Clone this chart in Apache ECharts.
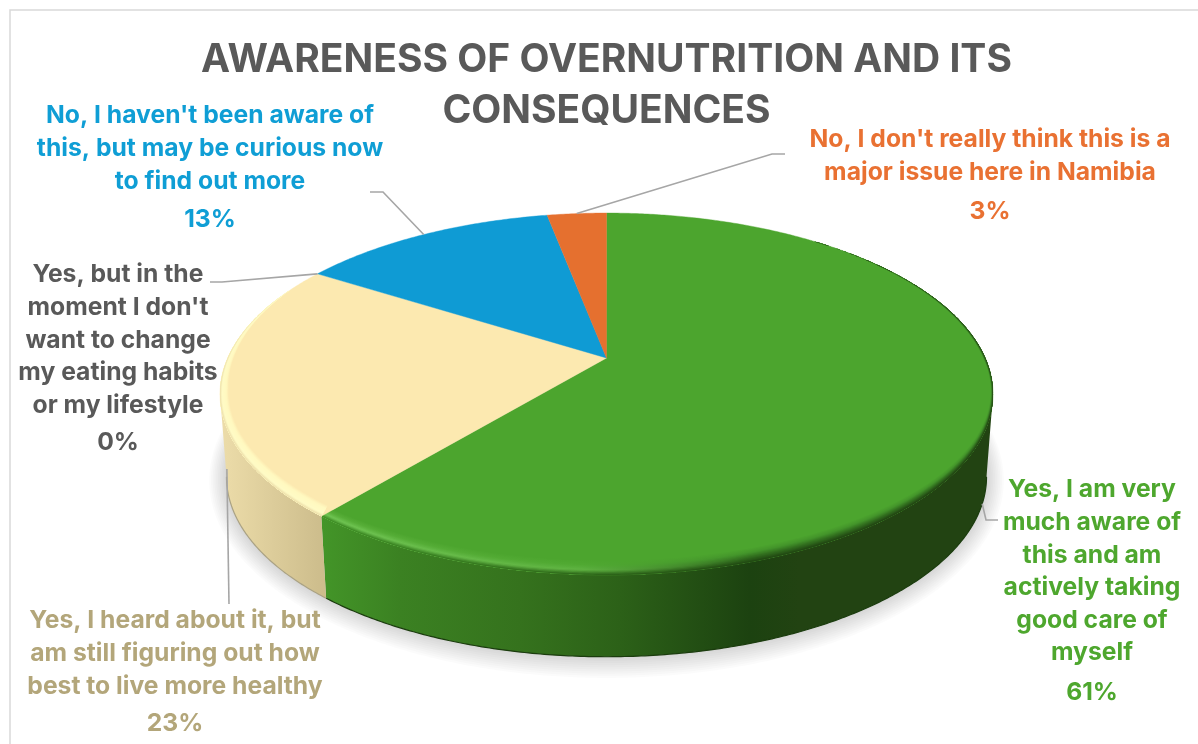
<!DOCTYPE html>
<html><head><meta charset="utf-8">
<style>html,body{margin:0;padding:0;background:#fff}#c{width:1198px;height:744px}</style>
<script src="https://cdn.jsdelivr.net/npm/echarts@6/dist/echarts.min.js"></script>
</head><body><div id="c"></div>
<script>
const titleText = 'AWARENESS OF OVERNUTRITION AND ITS\nCONSEQUENCES';
const categories = [
  'Yes, I am very\nmuch aware of\nthis and am\nactively taking\ngood care of\nmyself',
  'Yes, I heard about it, but\nam still figuring out how\nbest to live more healthy',
  "Yes, but in the\nmoment I don't\nwant to change\nmy eating habits\nor my lifestyle",
  "No, I haven't been aware of\nthis, but may be curious now\nto find out more",
  "No, I don't really think this is a\nmajor issue here in Namibia"
];
const values = [61, 23, 0, 13, 3];
const faceColors = ['#4ca52e', '#fce9b0', '#595959', '#0f9bd4', '#e5702f'];
const textColors = ['#4ea72e', '#b3a67a', '#595959', '#0f9ed5', '#e97132'];
const FONT = 'Inter';
const FS = 24.7, LH = 32.6;
// label layout: centre x, first line centre y, percent line centre y, leader elbow points, leader anchored on bottom rim?
const labelLayout = [
  {x:1092,y:490,py:693,elbow:[[986,520],[998,520]],low:true},
  {x:175,y:621,py:724,elbow:[[229,604]],low:true},
  {x:118,y:275,py:443,elbow:[[222,282],[210,282]],low:false},
  {x:210,y:116,py:220,elbow:[[383,192],[370,192]],low:false},
  {x:990,y:140,py:212,elbow:[[772,154],[785,154]],low:false}
];
// projection of the pie disc
const P = {cx:606.5,y0:358,a:378.8,b:173.8,k:0.199,a2:372.4,b2:172.8,y2:441};
const rad = d => d*Math.PI/180;
function topPt(deg,s,dy){
  s = s===undefined?1:s; dy = dy||0;
  const u=Math.sin(rad(deg)),v=Math.cos(rad(deg)),d=1+P.k*v;
  return [P.cx+s*P.a*u/d, P.y0-s*P.b*v/d+dy];
}
function botPt(deg,grow){
  grow = grow||0;
  const u=Math.sin(rad(deg)),v=Math.cos(rad(deg)),d=1+P.k*v;
  return [P.cx+(P.a2+grow)*u/d, P.y2-(P.b2+grow)*v/d];
}
const total = values.reduce((a,b)=>a+b,0);
const starts=[]; { let c=0; values.forEach(v=>{starts.push(c/total*360); c+=v;}); }
const ends = values.map((v,i)=>starts[i]+v/total*360);
const wallLimit = Math.acos(-P.k)*180/Math.PI; // silhouette angle right side
function arc(fn,a,b){ const n=Math.max(2,Math.ceil(Math.abs(b-a)*2)); const out=[]; for(let i=0;i<=n;i++) out.push(fn(a+(b-a)*i/n)); return out; }
function hex(c){return [1,3,5].map(i=>parseInt(c.substr(i,2),16));}
function mix(c1,c2,t){const a=hex(c1),b=hex(c2);return 'rgb('+a.map((x,i)=>Math.round(x+(b[i]-x)*t)).join(',')+')';}
function profile(stops,f){
  for(let i=1;i<stops.length;i++){ if(f<=stops[i][0]){const t=(f-stops[i-1][0])/(stops[i][0]-stops[i-1][0]);return mix(stops[i-1][1],stops[i][1],t);} }
  return stops[stops.length-1][1];
}
const grad = (x0,x1,stops)=>new echarts.graphic.LinearGradient(x0,0,x1,0,stops.map(s=>({offset:(s[0]-x0)/(x1-x0),color:s[1]})),true);
const wallStyles = {
  0:{stops:[[322,'#439528'],[400,'#3b8122'],[520,'#35721d'],[620,'#2c6118'],[750,'#1c4210'],[800,'#224312'],[993,'#224312']],edge:'#1b3c0e',from:wallLimit,to:null},
  1:{stops:[[222,'#ecdca9'],[322,'#cdbd8c']],edge:'#aaa284',from:null,to:270-(wallLimit-90)}
};
const bevels = {
  0:{radial:d=>0.006*Math.min(1,Math.max(0,(d-35)/45)),depth:13,cols:[
    [322,[[0,'#3f8f25'],[.3,'#70c553'],[.65,'#58af39'],[1,'#4ca52e']]],
    [580,[[0,'#2f6a1a'],[.3,'#5fb342'],[.65,'#50a932'],[1,'#4ca52e']]],
    [750,[[0,'#214a12'],[.3,'#2f6a1d'],[.65,'#43942a'],[1,'#4ca52e']]],
    [993,[[0,'#224312'],[.3,'#2f6a1d'],[.65,'#43942a'],[1,'#4ca52e']]]]},
  1:{radial:d=>0.022*Math.min(1,Math.max(0,(295-d)/35)),depth:9,cols:[
    [222,[[0,'#efe2ad'],[.2,'#fffbc6'],[.7,'#fff9c0'],[1,'#fce9b0']]],
    [330,[[0,'#efe2ad'],[.2,'#fffbc6'],[.7,'#fff9c0'],[1,'#fce9b0']]]]}
};
function sliceChildren(i){
  const out=[], a=starts[i], b=ends[i];
  if(values[i]<=0) return out;
  const ws=wallStyles[i];
  if(ws){
    const from=ws.from!==null?Math.max(a,ws.from):a, to=ws.to!==null?Math.min(b,ws.to):b;
    const t=arc(d=>topPt(d),from,to), l=arc(d=>botPt(d),from,to);
    out.push({type:'polygon',shape:{points:t.concat(l.slice().reverse())},
      style:{fill:grad(ws.stops[0][0],ws.stops[ws.stops.length-1][0],ws.stops),stroke:null}});
    out.push({type:'polyline',shape:{points:l},style:{stroke:ws.edge,lineWidth:1.2,fill:null}});
  }
  out.push({type:'polygon',shape:{points:[[P.cx,P.y0]].concat(arc(d=>topPt(d),a,b))},
    style:{fill:faceColors[i],stroke:faceColors[i],lineWidth:0.4}});
  const bv=bevels[i];
  if(bv){
    const N=12;
    for(let k=N;k>=1;k--){
      const f=k/N;
      const inner=arc(d=>{const c=Math.cos(rad(d));return topPt(d,1-bv.radial(d)*f,-bv.depth*f*Math.max(0,-c));},a,b);
      const outer=arc(d=>topPt(d),a,b);
      const x0=bv.cols[0][0], x1=bv.cols[bv.cols.length-1][0];
      const col=grad(x0,x1,bv.cols.map(c=>[c[0],profile(c[1],(k-1)/N)]));
      out.push({type:'polygon',shape:{points:outer.concat(inner.reverse())},style:{fill:col,stroke:null}});
    }
  }
  return out;
}
const shadowLayers = Array.from({length:10},(_,j)=>j+1);
const chart = echarts.init(document.getElementById('c'),null,{renderer:'canvas'});
chart.setOption({
  animation:false,
  backgroundColor:'#ffffff',
  title:{text:titleText,left:606.5,top:35,padding:0,textAlign:'center',
    textStyle:{fontFamily:FONT,fontSize:39,fontWeight:700,color:'#595959',lineHeight:51}},
  graphic:[{type:'rect',z:-10,shape:{x:10,y:10,width:1400,height:1000},style:{fill:'#fff',stroke:'#d9d9d9',lineWidth:1.5}}],
  series:[
    {type:'custom',coordinateSystem:'none',silent:true,z:1,data:[1],
     renderItem:()=>({type:'group',children:shadowLayers.map(j=>({type:'polygon',
       shape:{points:arc(d=>botPt(d,j*1.7),0,360)},style:{fill:'rgba(0,0,0,0.017)',stroke:null}}))})},
    {type:'custom',coordinateSystem:'none',silent:true,z:2,data:values.map((v,i)=>[i,v]),
     renderItem:(p,api)=>({type:'group',children:sliceChildren(api.value(0))})},
    {type:'custom',coordinateSystem:'none',silent:true,z:3,data:values.map((v,i)=>[i,v]),
     renderItem:(p,api)=>{
       const i=api.value(0), v=api.value(1), L=labelLayout[i];
       const mid=starts[i]+(values[i]/total*180);
       const anchor=L.low?botPt(mid):topPt(mid);
       return {type:'group',children:[
         {type:'polyline',shape:{points:[anchor].concat(L.elbow)},style:{stroke:'#a6a6a6',lineWidth:1.6,fill:null}},
         {type:'text',style:{text:categories[i],x:L.x,y:L.y-LH/2,align:'center',verticalAlign:'top',
            fontFamily:FONT,fontSize:FS,fontWeight:700,lineHeight:LH,fill:textColors[i]}},
         {type:'text',style:{text:v+'%',x:L.x,y:L.py,align:'center',verticalAlign:'middle',
            fontFamily:FONT,fontSize:FS,fontWeight:700,fill:textColors[i]}}
       ]};
     }}
  ]
});
</script></body></html>
